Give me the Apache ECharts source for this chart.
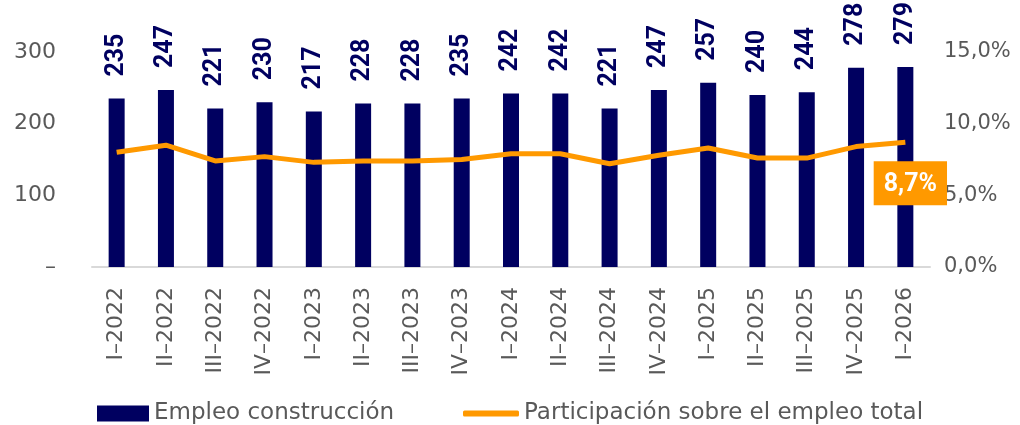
<!DOCTYPE html>
<html>
<head>
<meta charset="utf-8">
<script src="https://cdn.jsdelivr.net/npm/echarts@6/dist/echarts.min.js"></script>
<style>
  html, body { margin: 0; padding: 0; background: #fff; }
  #chart { width: 1020px; height: 425px; }
</style>
</head>
<body>
<div id="chart"></div>
<script>
const quarters = ["I-2022", "II-2022", "III-2022", "IV-2022", "I-2023", "II-2023", "III-2023", "IV-2023",
  "I-2024", "II-2024", "III-2024", "IV-2024", "I-2025", "II-2025", "III-2025", "IV-2025", "I-2026"];
const empleo = [235, 247, 221, 230, 217, 228, 228, 235, 242, 242, 221, 247, 257, 240, 244, 278, 279];
const participacion = [8.0, 8.5, 7.4, 7.7, 7.3, 7.4, 7.4, 7.5, 7.9, 7.9, 7.2, 7.8, 8.3, 7.6, 7.6, 8.4, 8.7];

const navy = "#000060";
const orange = "#FF9900";
const grey = "#595959";
const font = "DejaVu Sans";
const boldFont = "Roboto";

const lineData = participacion.map((v, i) => {
  if (i !== participacion.length - 1) return v;
  return {
    value: v,
    label: {
      show: true,
      position: "bottom",
      distance: 19,
      offset: [5, 0],
      backgroundColor: orange,
      color: "#fff",
      fontWeight: "bold",
      fontSize: 25,
      lineHeight: 26,
      fontFamily: boldFont,
      padding: [10, 10, 8, 10],
      formatter: (p) => p.value.toFixed(1).replace(".", ",") + "%"
    }
  };
});

const chart = echarts.init(document.getElementById("chart"));
chart.setOption({
  animation: false,
  textStyle: { fontFamily: font },
  grid: { left: 92, right: 90, top: 52, bottom: 158 },
  legend: [
    {
      top: 402,
      left: 97,
      padding: 0,
      itemWidth: 52,
      itemHeight: 16,
      icon: "rect",
      textStyle: { color: grey, fontSize: 23, fontFamily: font },
      data: ["Empleo construcción"]
    },
    {
      top: 402,
      left: 463,
      padding: 0,
      itemWidth: 56,
      itemHeight: 6,
      icon: "roundRect",
      textStyle: { color: grey, fontSize: 23, fontFamily: font },
      data: ["Participación sobre el empleo total"]
    }
  ],
  xAxis: {
    type: "category",
    data: quarters,
    axisLine: { lineStyle: { color: "#D9D9D9", width: 2 } },
    axisTick: { show: false },
    axisLabel: {
      rotate: 90,
      interval: 0,
      color: grey,
      fontSize: 22,
      margin: 20,
      formatter: (v) => v.replace("-", "–")
    }
  },
  yAxis: [
    {
      type: "value",
      min: 0,
      max: 300,
      interval: 100,
      splitLine: { show: false },
      axisLabel: {
        color: grey,
        fontSize: 22,
        margin: 36,
        formatter: (v) => (v === 0 ? "–" : v)
      }
    },
    {
      type: "value",
      min: 0,
      max: 15,
      interval: 5,
      splitLine: { show: false },
      axisLabel: {
        color: grey,
        fontSize: 21,
        margin: 14,
        formatter: (v) => v.toFixed(1).replace(".", ",") + "%"
      }
    }
  ],
  series: [
    {
      name: "Empleo construcción",
      type: "bar",
      data: empleo,
      barWidth: 16,
      itemStyle: { color: navy },
      label: {
        show: true,
        position: "top",
        align: "left",
        verticalAlign: "middle",
        distance: 22,
        color: navy,
        fontWeight: "bold",
        fontSize: 25,
        fontFamily: boldFont
      },
      // label.rotate has no effect here, turn labels through labelLayout
      labelLayout: { rotate: 90 }
    },
    {
      name: "Participación sobre el empleo total",
      type: "line",
      yAxisIndex: 1,
      data: lineData,
      symbol: "circle",
      symbolSize: 0,
      showSymbol: true,
      lineStyle: { color: orange, width: 5 },
      itemStyle: { color: orange }
    }
  ]
});
</script>
</body>
</html>
